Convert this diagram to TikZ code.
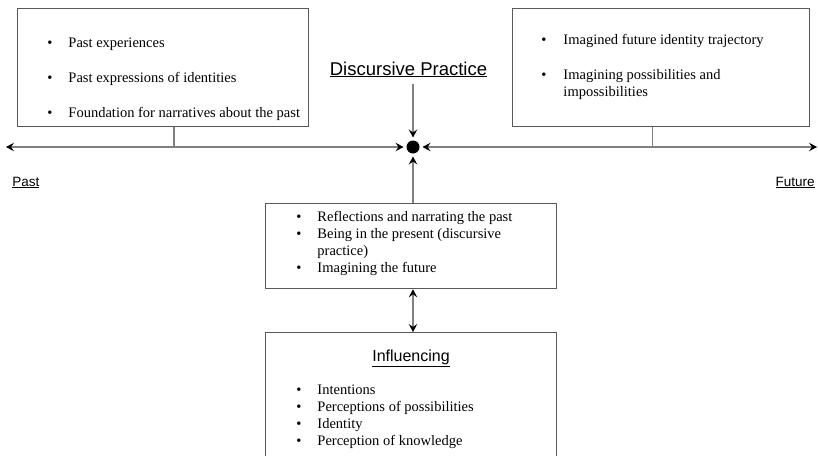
\documentclass[tikz,border=0pt]{standalone}
\usepackage{fontspec}
\setmainfont{Liberation Serif}
\setsansfont{Liberation Sans}
\usetikzlibrary{arrows.meta,positioning,calc}
\tikzset{
  >=Stealth,
  every picture/.append style={line width=0.8pt},
}

\begin{document}
\begin{tikzpicture}[
  x=1pt, y=-1pt,
  panel/.style={draw=black!65, line width=1.3pt, anchor=north west, inner sep=0pt},
  itemlist/.style={anchor=base west, inner sep=0pt, align=left, font=\fontsize{14.5}{17}\selectfont},
  heading/.style={anchor=base, inner sep=0pt, font=\sffamily\fontsize{18.5}{21}\selectfont},
  subhead/.style={anchor=base, inner sep=0pt, font=\sffamily\fontsize{16}{19}\selectfont},
  tag/.style={inner sep=0pt, font=\sffamily\fontsize{13.5}{16}\selectfont},
  tip/.tip={Stealth[length=8pt, width=8.5pt, inset=3pt, color=black]},
  link/.style={draw=black!50, line width=1.1pt},
  arr/.style={link, -tip},
  twoway/.style={link, tip-tip}
]
\useasboundingbox (0,0) rectangle (818,455);
\clip (0,0) rectangle (818,455);

% Boxes
\node[panel, minimum width=291pt, minimum height=118pt] (pastbox) at (17,8) {};
\node[panel, minimum width=297pt, minimum height=118pt] (futurebox) at (512,8) {};
\node[panel, minimum width=291pt, minimum height=85pt] (midbox) at (265,203) {};
\node[panel, minimum width=291pt, minimum height=200pt] (influbox) at (265,332) {};

% Box contents
\node[itemlist] (pastlist) at (47,47) {\begin{tabular}[t]{@{}l@{\hspace{16pt}}l@{}}
\textbullet & Past experiences\\[18pt]
\textbullet & Past expressions of identities\\[18pt]
\textbullet & Foundation for narratives about the past
\end{tabular}};
\node[itemlist] (futurelist) at (541,44) {\begin{tabular}[t]{@{}l@{\hspace{17pt}}l@{}}
\textbullet & Imagined future identity trajectory\\[18pt]
\textbullet & Imagining possibilities and\\
 & impossibilities
\end{tabular}};
\node[itemlist] (midlist) at (296,221) {\begin{tabular}[t]{@{}l@{\hspace{16pt}}l@{}}
\textbullet & Reflections and narrating the past\\
\textbullet & Being in the present (discursive\\
 & practice)\\
\textbullet & Imagining the future
\end{tabular}};
\node[subhead] (influencing) at (411,361) {\underline{Influencing}};
\node[itemlist] (influlist) at (296,394) {\begin{tabular}[t]{@{}l@{\hspace{16pt}}l@{}}
\textbullet & Intentions\\
\textbullet & Perceptions of possibilities\\
\textbullet & Identity\\
\textbullet & Perception of knowledge
\end{tabular}};

% Timeline and present point
\node[heading] (practice) at (408.5,75) {\underline{Discursive Practice}};
\node[circle, fill=black, minimum size=13pt, inner sep=0pt, outer sep=3pt] (now) at (413,147) {};
\coordinate (pastend) at (6,147);
\coordinate (futureend) at (817,147);
\node[tag, anchor=base west] (pastlabel) at (12,186) {\underline{Past}};
\node[tag, anchor=base east] (futurelabel) at (815,186) {\underline{Future}};

\draw[twoway] (pastend) -- (now);
\draw[twoway] (now) -- (futureend);

% Box feet onto the timeline
\coordinate (pastfoot) at ($(pastbox.south west)!0.537!(pastbox.south east)$);
\coordinate (futurefoot) at ($(futurebox.south west)!0.471!(futurebox.south east)$);
\draw[link] (pastfoot) -- (pastfoot |- now);
\draw[link] (futurefoot) -- (futurefoot |- now);

% Arrows into the present
\coordinate (practicefoot) at ($(now |- practice.south)+(0,6)$);
\draw[arr] (practicefoot) -- (now);
\draw[arr] (midbox.north -| now) -- (now);
\draw[twoway] (midbox.south -| now) -- (influbox.north -| now);

\end{tikzpicture}
\end{document}
